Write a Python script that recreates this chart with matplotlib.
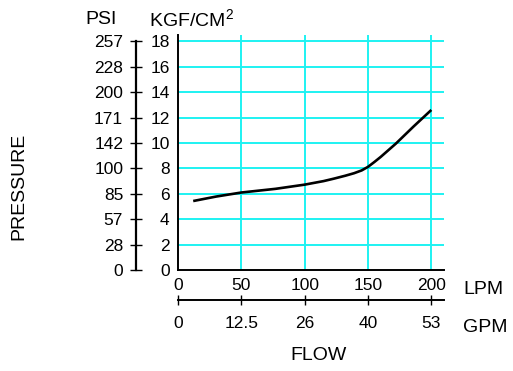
# Pressure vs flow curve, dual unit axes

import numpy as np
import matplotlib.pyplot as plt

plt.rcParams['font.family'] = 'Liberation Sans'
plt.rcParams['mathtext.fontset'] = 'custom'
plt.rcParams['mathtext.rm'] = 'Liberation Sans'

# === Data ===
flow_lpm = [12, 30, 50, 77, 100, 115, 123, 132, 139, 145, 150, 155, 160, 172, 186, 200]
pressure_kgf = [5.43, 5.78, 6.1, 6.39, 6.72, 7.0, 7.19, 7.42, 7.62, 7.84, 8.12, 8.5,
                8.9, 9.95, 11.3, 12.6]

kgf_ticks = [0, 2, 4, 6, 8, 10, 12, 14, 16, 18]
psi_labels = ["0", "28", "57", "85", "100", "142", "171", "200", "228", "257"]
lpm_ticks = [0, 50, 100, 150, 200]
gpm_labels = ["0", "12.5", "26", "40", "53"]

W, H = 513, 371
CYAN = "#1ef2f2"

fig = plt.figure(figsize=(W / 100, H / 100), dpi=100)

# main axes (pixel box: x 178..444, y 35..270)
ax = fig.add_axes([178 / W, 1 - 270 / H, 266 / W, 235 / H])
ax.plot(flow_lpm, pressure_kgf, color="black", lw=1.9, solid_capstyle="butt",
        solid_joinstyle="round", zorder=3)
ax.set_xlim(0, 210)
ax.set_ylim(0, 18.5)
ax.set_xticks(lpm_ticks)
ax.set_yticks(kgf_ticks)
for v in lpm_ticks[1:]:
    ax.axvline(v, color=CYAN, lw=1.4, zorder=1)
for v in kgf_ticks[1:]:
    ax.axhline(v, color=CYAN, lw=1.4, zorder=1)
ax.spines[["top", "right"]].set_visible(False)
ax.spines[["left", "bottom"]].set_linewidth(1.4)
ax.tick_params(length=0, labelsize=12.5, pad=6)

# PSI axis (separate line at x=136)
axp = fig.add_axes([136 / W, 1 - 270 / H, 1 / W, 235 / H])
axp.set_ylim(0, 18.5)
axp.set_xticks([])
axp.set_yticks(kgf_ticks)
axp.set_yticklabels(psi_labels)
for s in ["top", "right", "bottom"]:
    axp.spines[s].set_visible(False)
axp.spines["left"].set_bounds(0, 18)
axp.spines["left"].set_linewidth(1.6)
axp.patch.set_visible(False)
axp.tick_params(direction="inout", length=8.5, width=1.0, labelsize=12.5, pad=5)

# GPM axis (separate line at y=300)
axg = fig.add_axes([178 / W, 1 - 300 / H, 266 / W, 1 / H])
axg.set_xlim(0, 210)
axg.set_yticks([])
axg.set_xticks(lpm_ticks)
axg.set_xticklabels(gpm_labels)
for s in ["top", "right", "left"]:
    axg.spines[s].set_visible(False)
axg.spines["bottom"].set_linewidth(1.4)
axg.patch.set_visible(False)
axg.tick_params(direction="inout", length=7.5, width=1.0, labelsize=12.5, pad=8)

# titles / unit labels
fig.text(101 / W, 1 - 20 / H, "PSI", fontsize=14, ha="center", va="center")
fig.text(149 / W, 1 - 20 / H, "KGF/CM$^2$", fontsize=14, ha="left", va="center")
fig.text(19 / W, 1 - 186 / H, "PRESSURE", fontsize=14, rotation=90, ha="center", va="center")
fig.text(318 / W, 1 - 356 / H, "FLOW", fontsize=14, ha="center", va="center")
fig.text(463 / W, 1 - 289 / H, "LPM", fontsize=14, ha="left", va="center")
fig.text(463 / W, 1 - 327 / H, "GPM", fontsize=14, ha="left", va="center")

fig.savefig("out.png", dpi=100)
